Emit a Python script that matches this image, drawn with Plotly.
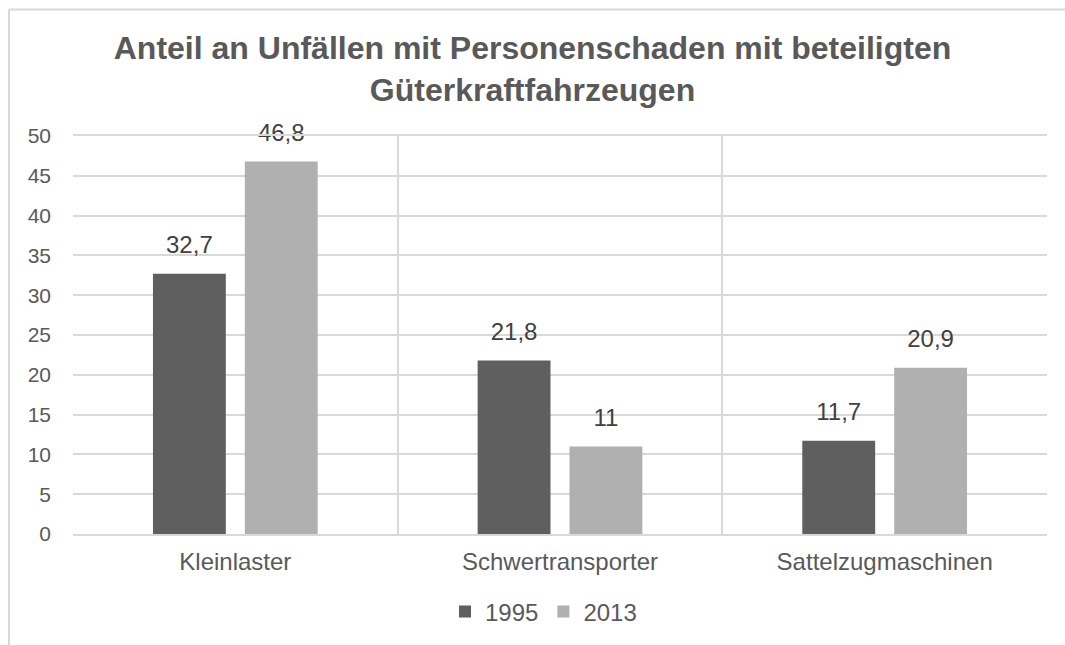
import plotly.graph_objects as go

C_TEXT  = '#595959'
C_LABEL = '#404040'
C_GRID  = '#d9d9d9'
C_DARK  = '#5f5f5f'
C_LIGHT = '#b0b0b0'
FONT    = 'Liberation Sans, Arial, sans-serif'

categories = ['Kleinlaster', 'Schwertransporter', 'Sattelzugmaschinen']
years = ['1995', '2013']
values_1995 = [32.7, 21.8, 11.7]
values_2013 = [46.8, 11.0, 20.9]
y_ticks = [0, 5, 10, 15, 20, 25, 30, 35, 40, 45, 50]

W, H = 1065, 645
M_L, M_R, M_T, M_B = 73, 18, 136, 111
PW, PH = W - M_L - M_R, H - M_T - M_B


def px_x(p):
    return (p - M_L) / PW


def px_y(p):
    return (H - M_B - p) / PH


def de(v):
    return f'{v:g}'.replace('.', ',')


fig = go.Figure()
for name, vals, color in [(years[0], values_1995, C_DARK), (years[1], values_2013, C_LIGHT)]:
    fig.add_trace(go.Bar(
        name=name, x=categories, y=vals, marker=dict(color=color, line=dict(width=0)),
        offsetgroup=name, hoverinfo='skip',
    ))
# value labels, grouped like the bars
for name, vals in [(years[0], values_1995), (years[1], values_2013)]:
    fig.add_trace(go.Scatter(
        x=categories, y=vals, mode='markers+text', text=[de(v) for v in vals],
        textposition='top center', textfont=dict(size=24, color=C_LABEL, family=FONT),
        marker=dict(size=22, color='rgba(0,0,0,0)'), showlegend=False,
        offsetgroup=name, hoverinfo='skip', cliponaxis=False,
    ))

fig.update_layout(
    width=W, height=H,
    paper_bgcolor='white', plot_bgcolor='white',
    font=dict(family=FONT, color=C_TEXT, size=24),
    margin=dict(l=M_L, r=M_R, t=M_T, b=M_B, autoexpand=False),
    title=dict(text='<b>Anteil an Unfällen mit Personenschaden mit beteiligten<br>Güterkraftfahrzeugen</b>',
               x=0.5, xanchor='center', y=1 - 59 / H, yanchor='top',
               font=dict(size=32, color=C_TEXT, family=FONT)),
    barmode='group', bargap=0.434, bargroupgap=0.207,
    scattermode='group', scattergap=0.434,
    xaxis=dict(type='category', tickson='boundaries', showgrid=True, gridcolor=C_GRID, gridwidth=2,
               showline=True, linecolor=C_GRID, linewidth=2, mirror=True, ticks='',
               ticklabelstandoff=5, tickfont=dict(size=24, color=C_TEXT)),
    yaxis=dict(range=[0, 50], tickvals=y_ticks, showgrid=True, gridcolor=C_GRID, gridwidth=2,
               zeroline=False, showline=False, ticks='', ticklabelstandoff=21,
               tickfont=dict(size=21, color=C_TEXT)),
    legend=dict(orientation='h', x=px_x(543.5), xanchor='center', y=px_y(612), yanchor='middle',
                font=dict(size=24, color=C_TEXT), bgcolor='rgba(0,0,0,0)', traceorder='normal'),
    showlegend=True,
)

# outer chart frame (cropped at right and bottom)
fig.add_shape(type='line', xref='paper', yref='paper', x0=px_x(9), x1=px_x(W), y0=px_y(9.5), y1=px_y(9.5),
              line=dict(color=C_GRID, width=2))
fig.add_shape(type='line', xref='paper', yref='paper', x0=px_x(9), x1=px_x(9), y0=px_y(9.5), y1=px_y(H),
              line=dict(color=C_GRID, width=2))

# drop the default page margin so the figure sits at the window origin
fig.write_html('out.html', config={'displayModeBar': False},
               post_script="document.body.style.margin='0';")
